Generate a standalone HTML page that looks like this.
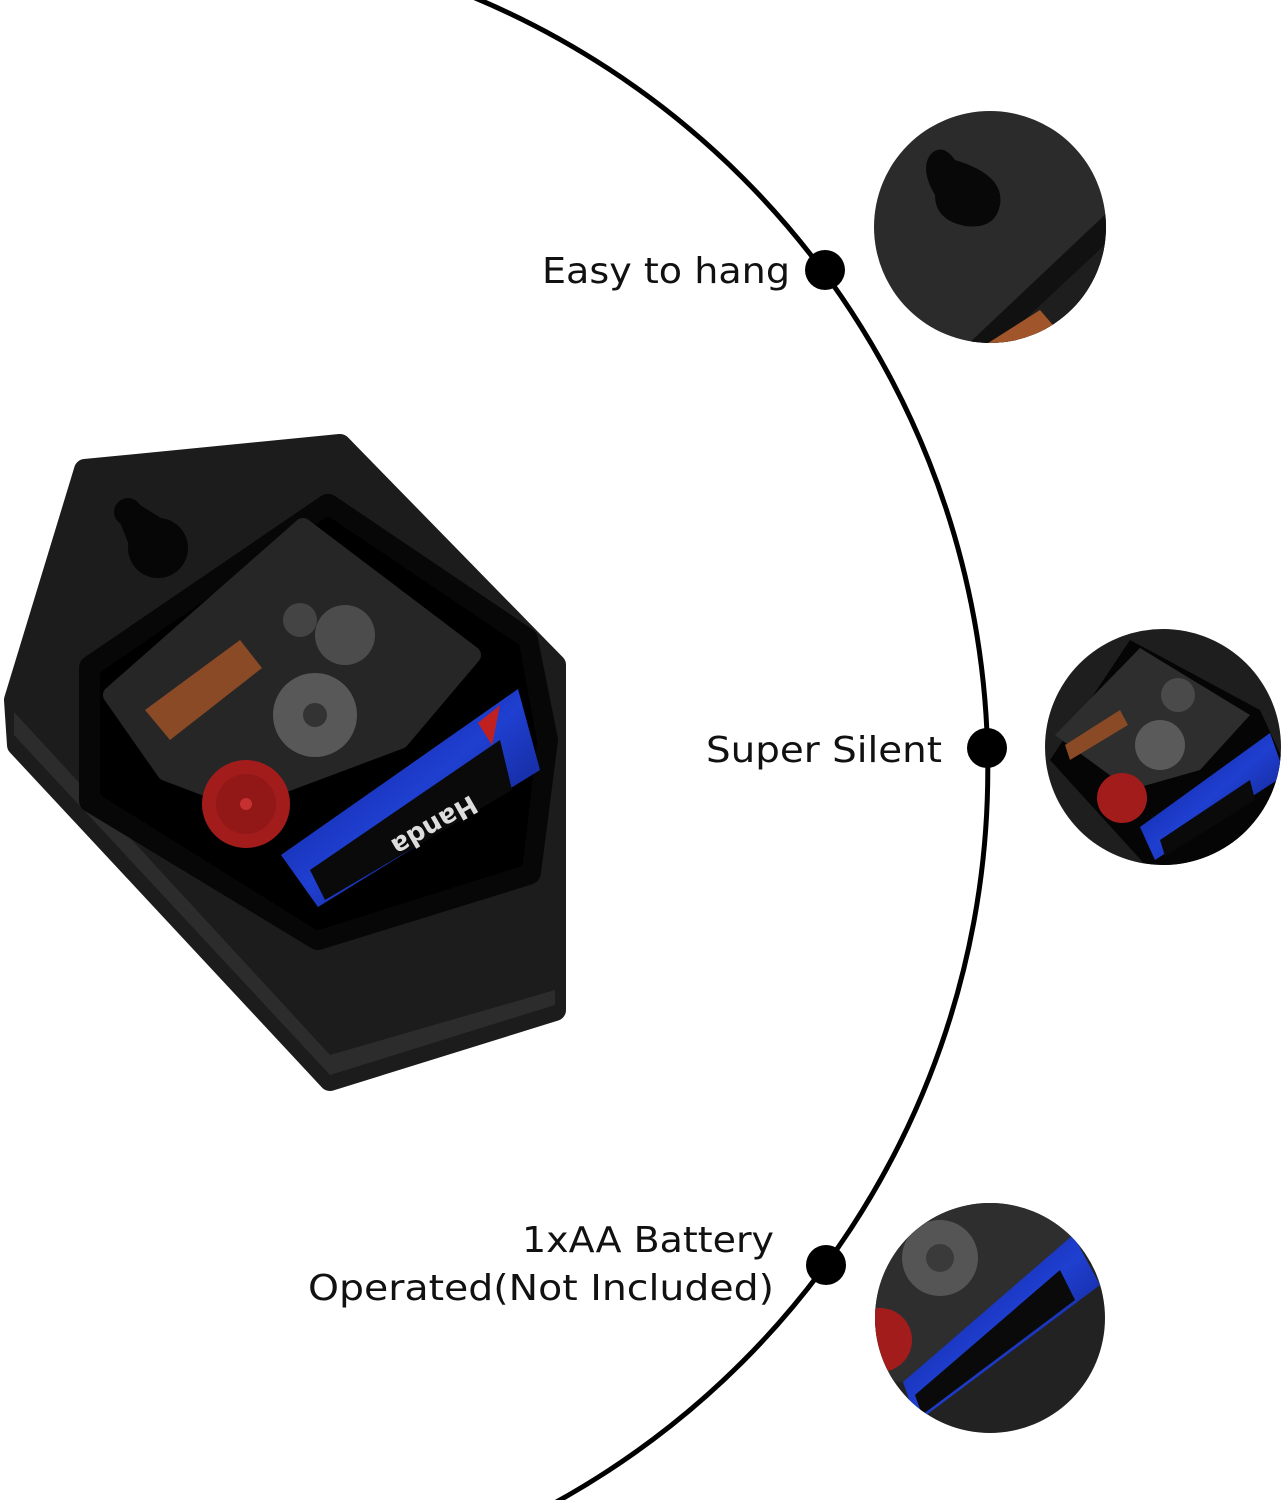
<!DOCTYPE html>
<html><head><meta charset="utf-8"><style>
html,body{margin:0;padding:0;background:#fff;overflow:hidden;}
svg{display:block;}
text{font-family:"DejaVu Sans","Liberation Sans",sans-serif;fill:#111;}
</style></head><body>
<svg width="1283" height="1500" viewBox="0 0 1283 1500" xmlns="http://www.w3.org/2000/svg">
<defs>
<clipPath id="c1"><circle cx="990" cy="227" r="116"/></clipPath>
<clipPath id="c2"><circle cx="1163" cy="747" r="118"/></clipPath>
<clipPath id="c3"><circle cx="990" cy="1318" r="115"/></clipPath>
<linearGradient id="bat" x1="0" y1="0" x2="1" y2="1"><stop offset="0" stop-color="#0a1a8a"/><stop offset="0.5" stop-color="#1f3fd0"/><stop offset="1" stop-color="#0a1466"/></linearGradient>
</defs>
<circle cx="150.6" cy="769.7" r="837.2" fill="none" stroke="#000" stroke-width="5"/>
<circle cx="825" cy="270" r="20" fill="#000"/>
<circle cx="987" cy="748" r="20" fill="#000"/>
<circle cx="826" cy="1265" r="20" fill="#000"/>
<text x="790" y="283" font-size="36" text-anchor="end" textLength="248" lengthAdjust="spacingAndGlyphs">Easy to hang</text>
<text x="942" y="762" font-size="36" text-anchor="end" textLength="236" lengthAdjust="spacingAndGlyphs">Super Silent</text>
<text x="774" y="1252" font-size="36" text-anchor="end" textLength="252" lengthAdjust="spacingAndGlyphs">1xAA Battery</text>
<text x="774" y="1300" font-size="36" text-anchor="end" textLength="466" lengthAdjust="spacingAndGlyphs">Operated(Not Included)</text>

<!-- product outer -->
<path d="M85,470 L340,445 L555,665 L555,1010 L330,1080 L18,745 L15,700 Z" fill="#1c1c1c" stroke="#1c1c1c" stroke-width="22" stroke-linejoin="round"/>
<path d="M14,735 L330,1075 L555,1005 L555,990 L330,1055 L14,712 Z" fill="#2c2c2c"/>
<!-- keyhole -->
<circle cx="128" cy="512" r="14" fill="#060606"/>
<circle cx="158" cy="548" r="30" fill="#060606"/>
<path d="M116,512 L140,505 L180,530 L135,560 Z" fill="#060606"/>
<!-- recess -->
<path d="M92,668 L328,507 L525,640 L545,740 L528,872 L318,937 L92,800 Z" fill="#070707" stroke="#070707" stroke-width="26" stroke-linejoin="round"/>
<path d="M105,675 L328,522 L515,648 L532,742 L518,862 L318,925 L105,792 Z" fill="#000" stroke="#000" stroke-width="10" stroke-linejoin="round"/>
<!-- movement -->
<path d="M112,695 L303,527 L472,655 L400,740 L240,800 L166,772 Z" fill="#262626" stroke="#262626" stroke-width="18" stroke-linejoin="round"/>
<path d="M145,710 L240,640 L262,668 L170,740 Z" fill="#8a4a25"/>
<circle cx="315" cy="715" r="42" fill="#585858"/>
<circle cx="315" cy="715" r="12" fill="#333"/>
<circle cx="345" cy="635" r="30" fill="#4c4c4c"/>
<circle cx="300" cy="620" r="17" fill="#444"/>
<!-- battery -->
<path d="M281,855 L518,689 L540,770 L318,907 Z" fill="url(#bat)"/>
<path d="M310,870 L500,740 L512,790 L325,900 Z" fill="#0a0a0a"/>
<text x="0" y="0" font-size="26" font-weight="bold" style="fill:#ddd" transform="translate(430,818) rotate(150)" text-anchor="middle">Handa</text>
<path d="M478,723 L500,705 L492,745 Z" fill="#c02020"/>
<!-- red gear -->
<circle cx="246" cy="804" r="44" fill="#a31c1c"/>
<circle cx="246" cy="804" r="30" fill="#921818"/>
<circle cx="246" cy="804" r="6" fill="#c63030"/>

<!-- inset 1 -->
<g clip-path="url(#c1)">
<rect x="860" y="100" width="260" height="260" fill="#2b2b2b"/>
<path d="M930,155 Q942,142 955,160 Q1005,175 1000,205 Q995,230 965,226 Q935,220 935,195 Q920,170 930,155 Z" fill="#080808"/>
<path d="M930,380 L1110,210 L1110,380 Z" fill="#111"/>
<path d="M960,380 L1110,240 L1110,380 Z" fill="#1e1e1e"/>
<path d="M985,345 L1040,310 L1070,345 Z" fill="#a0562a"/>
</g>
<!-- inset 2 -->
<g clip-path="url(#c2)">
<rect x="1040" y="625" width="250" height="250" fill="#1e1e1e"/>
<path d="M1050,760 L1130,640 L1260,710 L1283,760 L1283,870 L1150,870 Z" fill="#050505"/>
<path d="M1055,735 L1140,648 L1250,715 L1200,770 L1130,790 Z" fill="#2e2e2e"/>
<path d="M1065,745 L1120,710 L1128,725 L1070,760 Z" fill="#8a4a25"/>
<circle cx="1160" cy="745" r="25" fill="#5a5a5a"/>
<circle cx="1178" cy="695" r="17" fill="#4a4a4a"/>
<circle cx="1122" cy="798" r="25" fill="#a31c1c"/>
<path d="M1140,827 L1270,733 L1285,775 L1155,860 Z" fill="url(#bat)"/>
<path d="M1160,840 L1250,780 L1255,800 L1165,856 Z" fill="#0a0a0a"/>
</g>
<!-- inset 3 -->
<g clip-path="url(#c3)">
<rect x="870" y="1200" width="240" height="240" fill="#222"/>
<path d="M870,1200 L1060,1200 L1073,1235 L903,1382 L870,1380 Z" fill="#2e2e2e"/>
<circle cx="940" cy="1258" r="38" fill="#555"/>
<circle cx="940" cy="1258" r="14" fill="#3a3a3a"/>
<circle cx="880" cy="1340" r="32" fill="#a31c1c"/>
<path d="M903,1382 L1073,1235 L1100,1285 L917,1422 Z" fill="url(#bat)"/>
<path d="M915,1395 L1060,1270 L1075,1300 L922,1415 Z" fill="#0a0a0a"/>
</g>
</svg>
</body></html>
